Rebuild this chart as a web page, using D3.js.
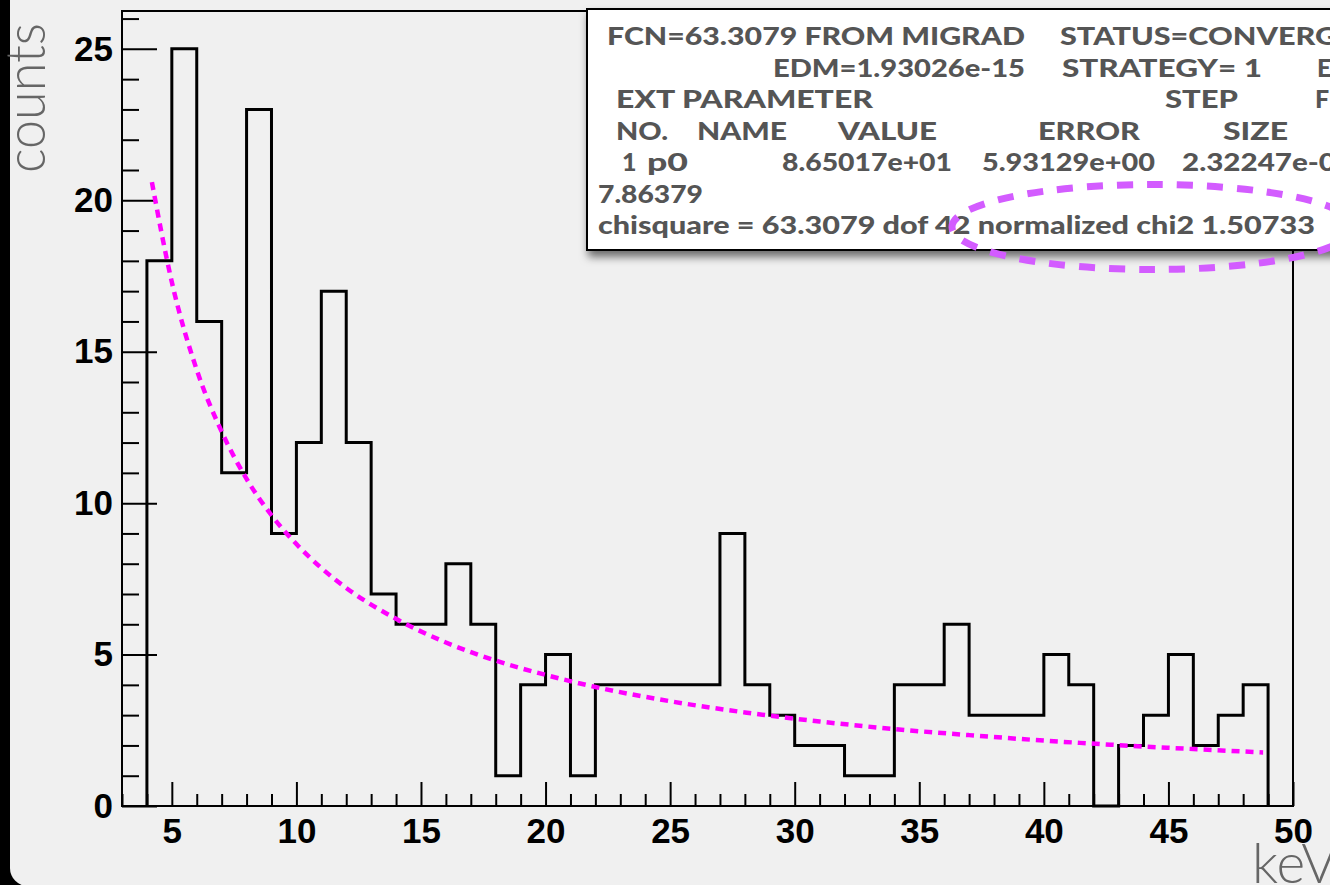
<!DOCTYPE html>
<html>
<head>
<meta charset="utf-8">
<script src="https://cdn.jsdelivr.net/npm/d3@7"></script>
<style>
  body { margin: 0; background: #000; overflow: hidden; }
</style>
</head>
<body>
<div id="viz"></div>
<script>
// histogram: 1 keV bins starting at 4 keV
const binStart = 4;
const binWidth = 1;
const counts = [18, 25, 16, 11, 23, 9, 12, 17, 12, 7,
                6, 6, 8, 6, 1, 4, 5, 1, 4, 4,
                4, 4, 4, 9, 4, 3, 2, 2, 1, 1,
                4, 4, 6, 3, 3, 3, 5, 4, 0, 2,
                3, 5, 2, 3, 4];

// fit curve
const fitX = [4.2, 5, 6, 7, 8, 9, 10, 11, 12, 14, 16, 18, 20, 22, 25, 28, 31, 34, 37, 40, 43, 46, 48.8];
const fitY = [20.6, 17.3, 14.4, 12.36, 10.8, 9.6, 8.65, 7.86, 7.2, 6.18, 5.4, 4.8, 4.33, 3.93, 3.46, 3.09, 2.79, 2.54, 2.34, 2.16, 2.01, 1.88, 1.77];

const xMajor = [5, 10, 15, 20, 25, 30, 35, 40, 45, 50];
const yMajor = [0, 5, 10, 15, 20, 25];

// stats box text, one list per row
const statRows = [
  ["FCN=63.3079 FROM MIGRAD", "STATUS=CONVERGED"],
  ["EDM=1.93026e-15", "STRATEGY= 1", "ERROR MATRIX ACCURATE"],
  ["EXT PARAMETER", "STEP", "FIRST"],
  ["NO.", "NAME", "VALUE", "ERROR", "SIZE"],
  ["1", "p0", "8.65017e+01", "5.93129e+00", "2.32247e-0"],
  ["7.86379"],
  ["chisquare = 63.3079 dof 42 normalized chi2 1.50733"]
];
// [x start, width] for each piece above
const statLayout = [
  [[607, 418], [1060, 318]],
  [[773, 252], [1062, 200], [1317, null]],
  [[616, 257], [1165, 73], [1315, null]],
  [[616, 52], [697, 90], [838, 99], [1038, 102], [1223, 65]],
  [[622, null], [647, 41], [782, 170], [982, 173], [1182, 154]],
  [[598, 105]],
  [[598, 717]]
];
const rowBase = [45, 76.5, 108, 139.5, 171, 202.5, 234];

const W = 1330, H = 885;

const svg = d3.select("#viz")
  .append("svg")
    .attr("width", W)
    .attr("height", H)
    .style("display", "block");

const defs = svg.append("defs");
const shadow = defs.append("filter").attr("id", "shadow")
  .attr("x", "-10%").attr("y", "-20%").attr("width", "130%").attr("height", "160%");
shadow.append("feDropShadow")
  .attr("dx", 2).attr("dy", 6).attr("stdDeviation", 4)
  .attr("flood-color", "#000").attr("flood-opacity", 0.55);

// slide background
svg.append("rect")
  .attr("x", 10).attr("y", -40)
  .attr("width", W + 40).attr("height", H + 40 + 1)
  .attr("rx", 18)
  .attr("fill", "#f0f0f0");

const x = d3.scaleLinear().domain([3, 50]).range([122, 1293]);
const y = d3.scaleLinear().domain([0, 26.25]).range([806, 11]);

// frame
svg.append("rect")
  .attr("x", x(3)).attr("y", y(26.25))
  .attr("width", x(50) - x(3)).attr("height", y(0) - y(26.25))
  .attr("fill", "none")
  .attr("stroke", "#000")
  .attr("stroke-width", 2);

// axes, ticks pointing inwards
const tickFont = "'Liberation Sans', Arial, Helvetica, sans-serif";

function styleAxis(g) {
  g.select(".domain").remove();
  g.selectAll(".tick line").attr("stroke", "#000").attr("stroke-width", 2);
  g.selectAll("text")
    .attr("fill", "#000")
    .style("font-family", tickFont)
    .style("font-weight", "bold")
    .style("font-size", "35px");
}

const xMinor = d3.range(3, 51).filter(v => !xMajor.includes(v));
const yMinor = d3.range(0, 27).filter(v => !yMajor.includes(v));

svg.append("g")
  .attr("transform", `translate(0,${y(0)})`)
  .call(d3.axisBottom(x).tickValues(xMinor).tickSize(-12).tickFormat(""))
  .call(styleAxis);

svg.append("g")
  .attr("transform", `translate(0,${y(0)})`)
  .call(d3.axisBottom(x).tickValues(xMajor).tickSize(-24).tickPadding(12).tickFormat(d3.format("d")))
  .call(styleAxis);

svg.append("g")
  .attr("transform", `translate(${x(3)},0)`)
  .call(d3.axisLeft(y).tickValues(yMinor).tickSize(-17).tickFormat(""))
  .call(styleAxis);

svg.append("g")
  .attr("transform", `translate(${x(3)},0)`)
  .call(d3.axisLeft(y).tickValues(yMajor).tickSize(-35).tickPadding(9).tickFormat(d3.format("d")))
  .call(styleAxis);

// histogram outline
const histPts = [[binStart, 0]];
counts.forEach((c, i) => {
  const x0 = binStart + i * binWidth;
  histPts.push([x0, c], [x0 + binWidth, c]);
});
histPts.push([binStart + counts.length * binWidth, 0]);

svg.append("path")
  .datum(histPts)
  .attr("d", d3.line().x(d => x(d[0])).y(d => y(d[1])))
  .attr("fill", "none")
  .attr("stroke", "#000")
  .attr("stroke-width", 3)
  .attr("stroke-linejoin", "miter");

// fit
svg.append("path")
  .datum(fitX.map((v, i) => [v, fitY[i]]))
  .attr("d", d3.line().x(d => x(d[0])).y(d => y(d[1])).curve(d3.curveMonotoneX))
  .attr("fill", "none")
  .attr("stroke", "#ff00ff")
  .attr("stroke-width", 4.5)
  .attr("stroke-dasharray", "8 6");

// stats box
svg.append("rect")
  .attr("x", 587).attr("y", 9)
  .attr("width", 820).attr("height", 241)
  .attr("fill", "#fff")
  .attr("stroke", "#000")
  .attr("stroke-width", 2)
  .attr("filter", "url(#shadow)");

const statG = svg.append("g")
  .style("font-family", "Lato, 'Open Sans', sans-serif")
  .style("font-weight", 900)
  .style("font-size", "25px")
  .attr("fill", "#555");

statRows.forEach((row, r) => {
  row.forEach((txt, j) => {
    const [sx, sw] = statLayout[r][j];
    const t = statG.append("text")
      .attr("x", sx)
      .attr("y", rowBase[r])
      .text(txt);
    if (sw) t.attr("textLength", sw).attr("lengthAdjust", "spacingAndGlyphs");
  });
});

// highlight ring around the normalized chi2
svg.append("ellipse")
  .attr("cx", 1153).attr("cy", 227)
  .attr("rx", 201).attr("ry", 42.5)
  .attr("fill", "none")
  .attr("stroke", "#d35cff")
  .attr("stroke-width", 7)
  .attr("stroke-dasharray", "16 14");

// axis titles
const titleFont = "Lato, 'Open Sans', sans-serif";
svg.append("text")
  .attr("transform", "translate(45,173) rotate(-90)")
  .attr("textLength", 150)
  .attr("lengthAdjust", "spacingAndGlyphs")
  .style("font-family", titleFont)
  .style("font-weight", 300)
  .style("font-size", "55px")
  .attr("fill", "#666")
  .text("counts");

svg.append("text")
  .attr("x", 1252).attr("y", 883)
  .style("font-family", titleFont)
  .style("font-weight", 300)
  .style("font-size", "55px")
  .attr("fill", "#666")
  .text("keV");
</script>
</body>
</html>
